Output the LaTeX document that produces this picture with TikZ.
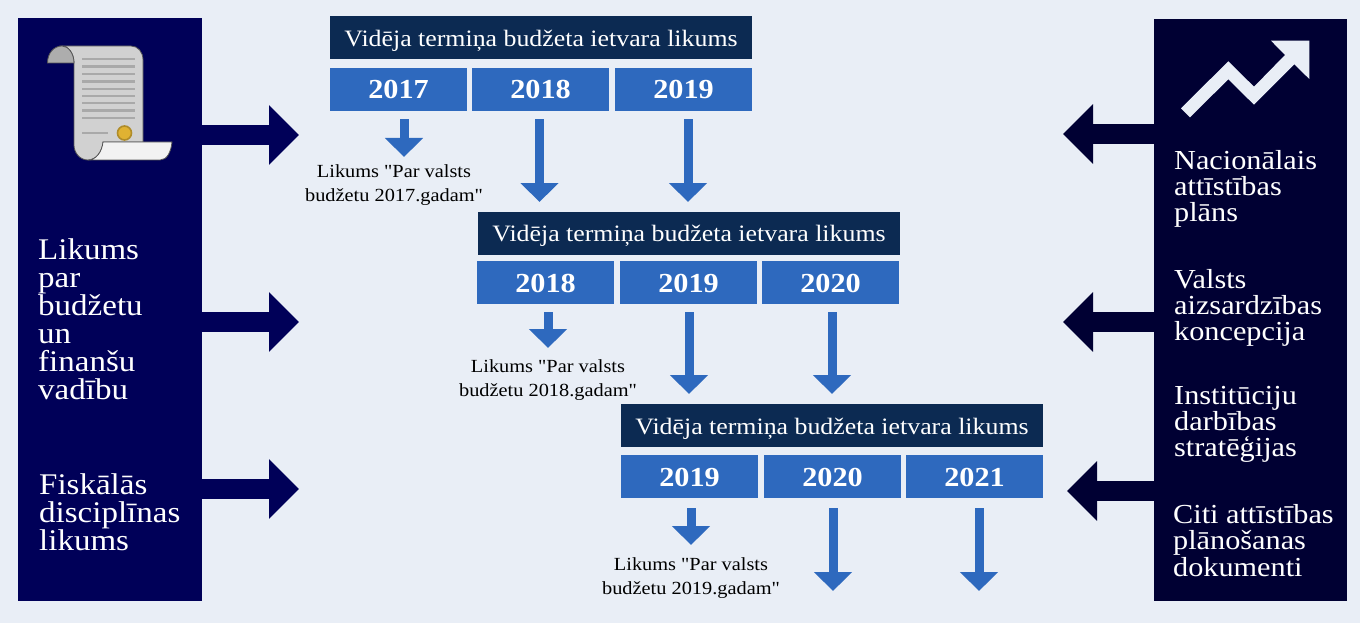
\documentclass[tikz,border=0pt]{standalone}
\usepackage{fontspec}
\usepackage{xcolor}
\usetikzlibrary{arrows.meta}
\setmainfont[FakeStretch=1.1, Ligatures=TeXOff]{Liberation Serif}

\definecolor{pagebg}{HTML}{E9EEF6}
\definecolor{leftblue}{HTML}{000058}
\definecolor{rightblue}{HTML}{000033}
\definecolor{headblue}{HTML}{0C2A52}
\definecolor{yearblue}{HTML}{2E69BE}
\definecolor{sealfill}{HTML}{E0B232}
\definecolor{sealline}{HTML}{AF8C2A}
\definecolor{scrollline}{HTML}{A9A9A9}
\definecolor{scrolledge}{HTML}{555555}

\tikzset{
    headbox/.style={fill=headblue, text=white, inner sep=0pt, minimum width=422pt, minimum height=43pt, text height=20pt, text depth=3pt, font=\fontsize{23.5}{24}\selectfont},
    yearbox/.style={fill=yearblue, text=white, inner sep=0pt, minimum width=137pt, minimum height=43pt, text height=19pt, text depth=0pt, font=\fontsize{27.5}{30}\selectfont\bfseries},
    panel/.style={inner sep=0pt, minimum width=184pt, minimum height=583pt},
    sidetext/.style={text=white, inner sep=0pt, anchor=north west, align=left},
    lawtext/.style={inner sep=0pt, align=center, font=\fontsize{18.5}{24}\selectfont},
    yeararrow/.style={draw=yearblue, line width=9pt, shorten <=8pt, -{Triangle[length=19pt,width=37pt]}},
    leftarrow/.style={draw=leftblue, line width=20pt, -{Triangle[length=30pt,width=58pt]}},
    rightarrow/.style={draw=rightblue, line width=20pt, -{Triangle[length=30pt,width=58pt]}},
    scrollpart/.style={draw=scrolledge, line width=0.8pt}
}

\begin{document}
\begin{tikzpicture}[x=1pt, y=-1pt]
        % the background
        \fill[pagebg] (0,0) rectangle (1360,623);
        \useasboundingbox (0,0) rectangle (1360,623);

        % side panels
        \node[panel, fill=leftblue] (left) at (110,309.5) {};
        \node[panel, fill=rightblue, minimum width=193pt, minimum height=582pt] (right) at (1250.5,310) {};

        % first block
        \node[headbox] (h1) at (541,38) {Vidēja termiņa budžeta ietvara likums};
        \node[yearbox] (a17) at (398.5,89.5) {2017};
        \node[yearbox] (a18) at (540.5,89.5) {2018};
        \node[yearbox] (a19) at (683.5,89.5) {2019};
        \node[lawtext] (law17) at (394,185) {Likums "Par valsts\\budžetu 2017.gadam"};

        % second block
        \node[headbox] (h2) at (689,233) {Vidēja termiņa budžeta ietvara likums};
        \node[yearbox] (b18) at (545.5,282.5) {2018};
        \node[yearbox] (b19) at (688.5,282.5) {2019};
        \node[yearbox] (b20) at (830.5,282.5) {2020};
        \node[lawtext] (law18) at (548,380) {Likums "Par valsts\\budžetu 2018.gadam"};

        % third block
        \node[headbox] (h3) at (832,425.5) {Vidēja termiņa budžeta ietvara likums};
        \node[yearbox] (c19) at (689.5,476.5) {2019};
        \node[yearbox] (c20) at (832.5,476.5) {2020};
        \node[yearbox] (c21) at (974.5,476.5) {2021};
        \node[lawtext] (law19) at (691,578) {Likums "Par valsts\\budžetu 2019.gadam"};

        % arrow ends
        \coordinate (e17) at (404,157);
        \coordinate (e18) at (539.5,202);
        \coordinate (e19) at (688,202);
        \coordinate (f18) at (548,348);
        \coordinate (f19) at (689,394);
        \coordinate (f20) at (832,394);
        \coordinate (g19) at (691,545);
        \coordinate (g20) at (833,591);
        \coordinate (g21) at (979,591);

        % year arrows
        \draw[yeararrow] (e17 |- a17.south) -- (e17);
        \draw[yeararrow] (e18 |- a18.south) -- (e18);
        \draw[yeararrow] (e19 |- a19.south) -- (e19);
        \draw[yeararrow] (f18 |- b18.south) -- (f18);
        \draw[yeararrow] (f19 |- b19.south) -- (f19);
        \draw[yeararrow] (f20 |- b20.south) -- (f20);
        \draw[yeararrow, shorten <=10pt] (g19 |- c19.south) -- (g19);
        \draw[yeararrow, shorten <=10pt] (g20 |- c20.south) -- (g20);
        \draw[yeararrow, shorten <=10pt] (g21 |- c21.south) -- (g21);

        % arrows from the panels
        \coordinate (l1) at (299,135);
        \coordinate (l2) at (299,322);
        \coordinate (l3) at (299,489);
        \coordinate (r1) at (1063,134);
        \coordinate (r2) at (1063,322);
        \coordinate (r3) at (1067,491);
        \draw[leftarrow] (left.east |- l1) -- (l1);
        \draw[leftarrow] (left.east |- l2) -- (l2);
        \draw[leftarrow] (left.east |- l3) -- (l3);
        \draw[rightarrow] (right.west |- r1) -- (r1);
        \draw[rightarrow] (right.west |- r2) -- (r2);
        \draw[rightarrow] (right.west |- r3) -- (r3);

        % left texts
        \node[sidetext, font=\fontsize{30}{28}\selectfont] (t1) at (38,238.5) {Likums\\par\\budžetu\\un\\finanšu\\vadību};
        \node[sidetext, font=\fontsize{30}{28}\selectfont] (t2) at (39,473) {Fiskālās\\disciplīnas\\likums};

        % right texts
        \node[sidetext, font=\fontsize{27.5}{26}\selectfont] (t3) at (1174,150) {Nacionālais\\attīstības\\plāns};
        \node[sidetext, font=\fontsize{27.5}{26}\selectfont] (t4) at (1174,269) {Valsts\\aizsardzības\\koncepcija};
        \node[sidetext, font=\fontsize{27.5}{26}\selectfont] (t5) at (1174,386) {Institūciju\\darbības\\stratēģijas};
        \node[sidetext, font=\fontsize{27.5}{26.5}\selectfont] (t6) at (1173,504) {Citi attīstības\\plānošanas\\dokumenti};

        % the scroll
        \draw[scrollpart, fill=black!18] (62,46) -- (131,46) .. controls (138,46) and (143,52) .. (143,60) -- (143,142) -- (103,142) .. controls (102,152) and (96,160) .. (88,160) .. controls (80,160) and (74,153) .. (74,145) -- (74,63) .. controls (74,53) and (68,46) .. (62,46) -- cycle;
        \draw[scrollpart, fill=black!32] (47.5,63) .. controls (47.5,53) and (54,46) .. (62,46) .. controls (68,46) and (74,53) .. (74,63) -- cycle;
        \draw[scrollpart, fill=black!5] (103,142) -- (172,142) .. controls (171,152) and (167,160) .. (160,160) -- (88,160) .. controls (96,160) and (102,152) .. (103,142) -- cycle;
        \foreach \ypos in {59,66.5,74,81.5,89,96,103,110.5,118}
            \draw[scrollline, line width=2.6pt] (82,\ypos) -- (135,\ypos);
        \draw[scrollline, line width=2.6pt] (82,133) -- (108,133);
        \draw[draw=sealline, line width=1.6pt, fill=sealfill] (124.5,133) circle (7pt);

        % the rising line
        \fill[pagebg] (1181,108.3) -- (1228.3,61.3) -- (1254,86.7) -- (1285,55) -- (1271,40.7) -- (1309.3,40.7) -- (1309.3,79) -- (1294.3,64.3) -- (1254,104.7) -- (1228.3,79.3) -- (1190,117.3) -- cycle;
\end{tikzpicture}
\end{document}
